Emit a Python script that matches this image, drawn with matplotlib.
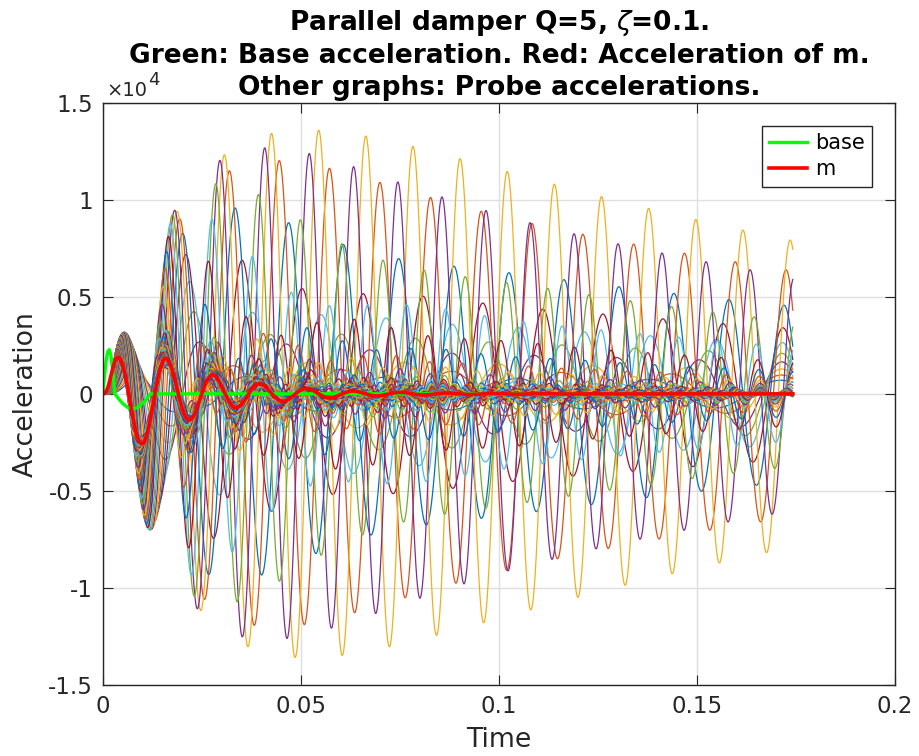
import numpy as np
import matplotlib
matplotlib.use('Agg')
import matplotlib.pyplot as plt
from matplotlib.ticker import FuncFormatter

# base acceleration pulse (time, acceleration)
pulse_t = [0, 0.0004, 0.0008, 0.0012, 0.0016, 0.002, 0.0025, 0.003,
           0.004, 0.005, 0.0065, 0.0078, 0.009, 0.0105, 0.012]
pulse_a = [0, 930, 1700, 2170, 2280, 1980, 1140, 0,
           -260, -500, -730, -770, -670, -390, 0]

# mass m on a spring with parallel damper (Q=5 -> zeta=0.1)
f_m = 85.0
zeta_m = 0.1

# probes: light oscillators sitting on m
probe_f = list(range(30, 331, 6))
zeta_p = 0.01

t_end = 0.1742
dt = 1e-5

colors = ['#0072BD', '#D95319', '#EDB120', '#7E2F8E',
          '#77AC30', '#4DBEEE', '#A2142F']

title_lines = ['Parallel damper Q=5, $\\zeta$=0.1.',
               'Green: Base acceleration. Red: Acceleration of m.',
               'Other graphs: Probe accelerations.']


def respond(u, w, zeta):
    # z'' + 2 zeta w z' + w^2 z = -u, returns absolute acceleration
    w = np.atleast_1d(np.asarray(w, dtype=float))
    z = np.zeros_like(w)
    v = np.zeros_like(w)
    out = np.zeros((len(u), len(w)))

    def f(z, v, uu):
        return v, -uu - 2 * zeta * w * v - w * w * z

    for i in range(len(u) - 1):
        u0 = u[i]
        u1 = u[i + 1]
        um = 0.5 * (u0 + u1)
        k1z, k1v = f(z, v, u0)
        k2z, k2v = f(z + 0.5 * dt * k1z, v + 0.5 * dt * k1v, um)
        k3z, k3v = f(z + 0.5 * dt * k2z, v + 0.5 * dt * k2v, um)
        k4z, k4v = f(z + dt * k3z, v + dt * k3v, u1)
        z = z + dt / 6 * (k1z + 2 * k2z + 2 * k3z + k4z)
        v = v + dt / 6 * (k1v + 2 * k2v + 2 * k3v + k4v)
        out[i + 1] = -2 * zeta * w * v - w * w * z
    return out


t = np.arange(0, t_end, dt)
base = np.interp(t, pulse_t, pulse_a, right=0)
acc_m = respond(base, 2 * np.pi * f_m, zeta_m)[:, 0]
acc_p = respond(acc_m, 2 * np.pi * np.array(probe_f), zeta_p)

plt.rcParams['font.family'] = ['DejaVu Sans']
plt.rcParams['mathtext.fontset'] = 'dejavusans'
fig = plt.figure(figsize=(9.19, 7.56), dpi=100)
ax = fig.add_axes([0.112, 0.094, 0.862, 0.770])

step = 4
for k in range(len(probe_f)):
    ax.plot(t[::step], acc_p[::step, k], color=colors[k % 7], lw=0.9)

ax.plot(pulse_t + [t_end], pulse_a + [0], color='#00ff00', lw=2.4, label='base')
ax.plot(t[::step], acc_m[::step], color='#ff0000', lw=2.6, label='m')

ax.set_xlim(0, 0.2)
ax.set_ylim(-15000, 15000)
ax.set_xticks([0, 0.05, 0.1, 0.15, 0.2])
ax.set_yticks([-15000, -10000, -5000, 0, 5000, 10000, 15000])
ax.xaxis.set_major_formatter(FuncFormatter(lambda x, p: '%g' % x))
ax.yaxis.set_major_formatter(FuncFormatter(lambda y, p: '%g' % (y / 1e4)))
ax.tick_params(direction='in', length=7, top=True, right=True,
               labelsize=16.5, colors='#262626', pad=7)
ax.grid(True, color='#dfdfdf', lw=1)
ax.set_axisbelow(True)
for s in ax.spines.values():
    s.set_color('#262626')
    s.set_linewidth(1)

# exponent label like matlab's
mult = ax.text(0.004, 1.004, '\u00d710', transform=ax.transAxes,
               fontsize=14, color='#262626', va='bottom', ha='left')
ax.annotate('4', xy=(1.03, 0.6), xycoords=mult, fontsize=13,
            color='#262626', va='bottom', ha='left')

ax.set_xlabel('Time', fontsize=19.3, color='#262626', labelpad=7)
ax.set_ylabel('Acceleration', fontsize=19.3, color='#262626', labelpad=7)

# title, one text per line, centred over the axes
for y, line in zip([0.9603, 0.9173, 0.8743], title_lines):
    fig.text(0.543, y, line, fontsize=19, fontweight='bold',
             ha='center', va='baseline')

leg = ax.legend(loc='upper right', bbox_to_anchor=(0.971, 0.9605), fontsize=15,
                fancybox=False, framealpha=1, edgecolor='#262626',
                handlelength=1.8, handletextpad=0.4, borderpad=0.35,
                labelspacing=0.3, borderaxespad=0)
leg.get_frame().set_linewidth(1)

fig.savefig('out.png', dpi=100)
